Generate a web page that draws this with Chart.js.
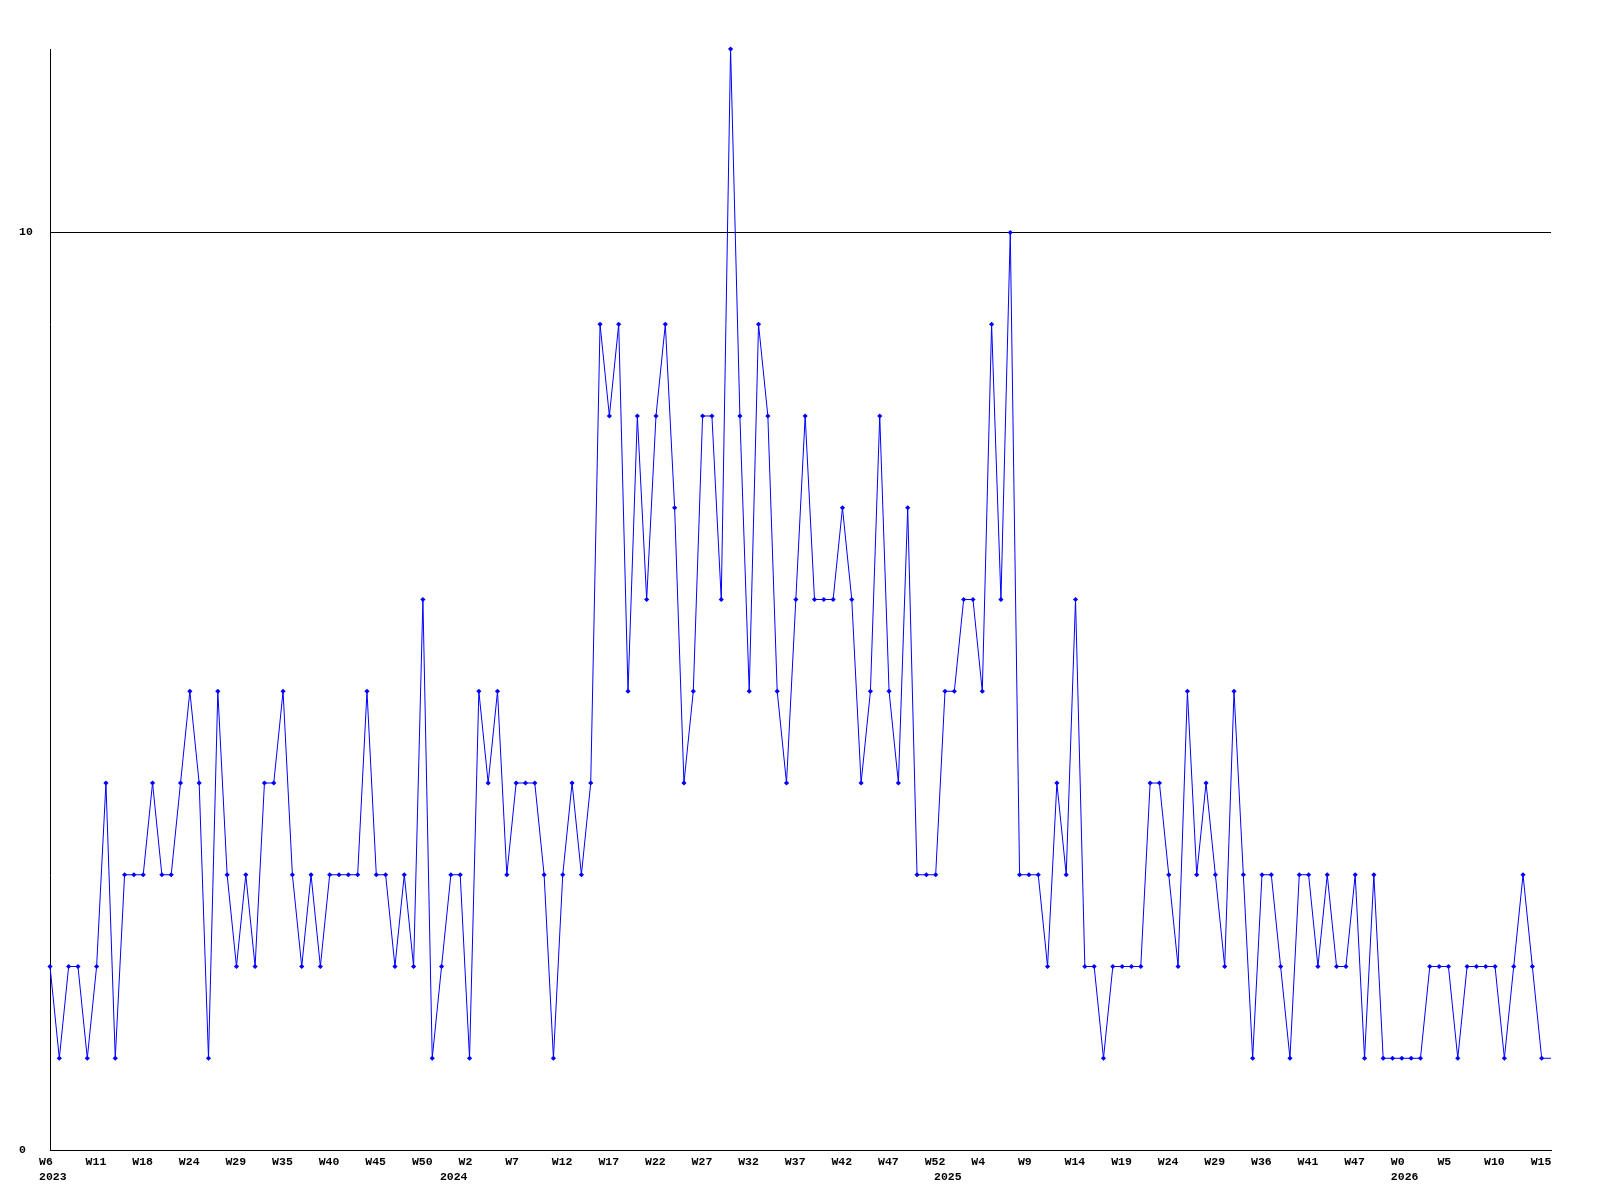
<!DOCTYPE html>
<html>
<head>
<meta charset="utf-8">
<script src="https://cdn.jsdelivr.net/npm/chart.js@4/dist/chart.umd.min.js"></script>
<style>
html,body{margin:0;padding:0;background:#ffffff;}
#wrap{width:1600px;height:1200px;}
</style>
</head>
<body>
<div id="wrap"><canvas id="c" width="1600" height="1200"></canvas></div>
<script>
// Week numbers present in the data, per year
const weeks2023 = [6,7,8,9,10,11,13,14,15,17,18,19,20,22,23,24,25,26,27,28,29,30,31,32,34,35,36,37,38,39,40,41,42,43,44,45,46,47,48,49,50,51,52];
const weeks2024 = [0,1,2,3,4,5,6,7,8,9,10,11,12,13,14,15,16,17,18,19,20,21,22,23,24,25,26,27,28,29,30,31,32,33,34,35,36,37,38,39,40,41,42,43,44,45,46,47,48,49,50,51,52];
const weeks2025 = [0,1,2,3,4,5,6,7,8,9,10,11,12,13,14,15,16,17,18,19,20,21,22,23,24,25,26,27,28,29,30,32,33,35,36,37,38,39,40,41,42,43,45,46,47,48,49,50,52];
const weeks2026 = [0,1,2,3,4,5,6,7,8,9,10,11,12,13,14,15,16];
const years = [2023, 2024, 2025, 2026];

// Weekly counts
const counts = [
  2,1,2,2,1,2,4,1,3,3,
  3,4,3,3,4,5,4,1,5,3,
  2,3,2,4,4,5,3,2,3,2,
  3,3,3,3,5,3,3,2,3,2,
  6,1,2,3,3,1,5,4,5,3,
  4,4,4,3,1,3,4,3,4,9,
  8,9,5,8,6,8,9,7,4,5,
  8,8,6,12,8,5,9,8,5,4,
  6,8,6,6,6,7,6,4,5,8,
  5,4,7,3,3,3,5,5,6,6,
  5,9,6,10,3,3,3,2,4,3,
  6,2,2,1,2,2,2,2,4,4,
  3,2,5,3,4,3,2,5,3,1,
  3,3,2,1,3,3,2,3,2,2,
  3,1,3,1,1,1,1,1,2,2,
  2,1,2,2,2,2,1,2,3,2,
  1,1
];

const yTicks = [0, 10];
const labelEvery = 5;

// Build category labels "YYYY-Www"
const weekLists = [weeks2023, weeks2024, weeks2025, weeks2026];
const labels = [];
const labelYear = [];
const labelWeek = [];
years.forEach((y, k) => {
  weekLists[k].forEach(w => {
    labels.push(y + '-W' + w);
    labelYear.push(String(y));
    labelWeek.push('W' + w);
  });
});

const tickFont = {family: "'Liberation Mono','DejaVu Sans Mono',monospace", size: 11.5, weight: 'bold', lineHeight: 1.2};

const ctx = document.getElementById('c').getContext('2d');
new Chart(ctx, {
  type: 'line',
  data: {
    labels: labels,
    datasets: [{
      data: counts,
      xAxisID: 'x',
      yAxisID: 'y',
      borderColor: '#0000ff',
      backgroundColor: '#0000ff',
      borderWidth: 1,
      tension: 0,
      fill: false,
      clip: false,
      pointStyle: 'rectRot',
      pointRadius: c => (c.dataIndex === counts.length - 1 ? 0 : 2.6),
      pointBorderWidth: 0,
      pointBackgroundColor: '#0000ff',
      pointHoverRadius: 0
    }]
  },
  options: {
    responsive: false,
    animation: false,
    devicePixelRatio: 1,
    events: [],
    layout: {padding: {left: 19, right: 49, top: 49, bottom: 0}},
    plugins: {legend: {display: false}, tooltip: {enabled: false}, title: {display: false}},
    scales: {
      x: {
        type: 'category',
        position: 'bottom',
        weight: 0,
        offset: false,
        grid: {display: false, drawTicks: false},
        border: {display: true, color: '#000000', width: 1},
        ticks: {
          autoSkip: false, maxRotation: 0, minRotation: 0,
          align: 'start', labelOffset: -11, padding: 5,
          color: '#000000', font: tickFont,
          callback: (v, i) => (i % labelEvery === 0 ? labelWeek[i] : '')
        },
        afterFit: s => { s.height = 20; }
      },
      x2: {
        type: 'category',
        position: 'bottom',
        weight: 1,
        offset: false,
        grid: {display: false, drawTicks: false},
        border: {display: false},
        ticks: {
          autoSkip: false, maxRotation: 0, minRotation: 0,
          align: 'start', labelOffset: -11, padding: 0,
          color: '#000000', font: tickFont,
          callback: (v, i) => ((i === 0 || labelYear[i] !== labelYear[i - 1]) ? labelYear[i] : '')
        },
        afterFit: s => { s.height = 30; }
      },
      y: {
        type: 'linear',
        position: 'left',
        min: 0,
        max: 12,
        grid: {color: '#000000', lineWidth: 1, drawTicks: false},
        border: {display: true, color: '#000000', width: 1},
        ticks: {
          crossAlign: 'far', padding: 0, color: '#000000', font: tickFont,
          callback: v => String(v)
        },
        afterBuildTicks: s => { s.ticks = yTicks.map(v => ({value: v})); },
        afterFit: s => { s.width = 31; }
      }
    }
  }
});
</script>
</body>
</html>
